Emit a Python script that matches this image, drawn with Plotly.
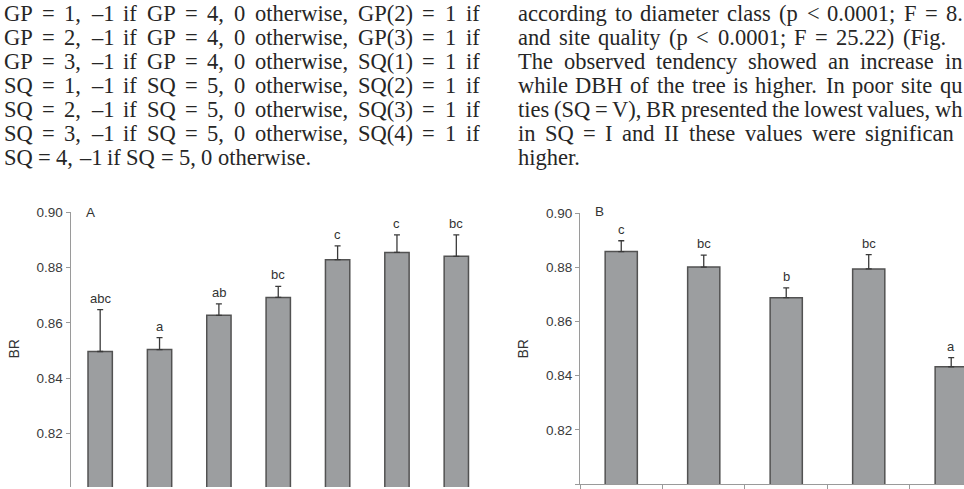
import plotly.graph_objects as go

W, H = 964, 489

# ---------------- data ----------------
classes_A = ["1", "2", "3", "4", "5", "6", "7"]
br_A = [0.8496, 0.8503, 0.8627, 0.8692, 0.8829, 0.8855, 0.8841]
err_A = [0.0152, 0.0043, 0.0042, 0.0040, 0.0050, 0.0064, 0.0078]
letters_A = ["abc", "a", "ab", "bc", "c", "c", "bc"]

classes_B = ["I", "II", "III", "IV", "V"]
br_B = [0.8858, 0.8801, 0.8688, 0.8794, 0.8433]
err_B = [0.0040, 0.0044, 0.0036, 0.0053, 0.0034]
letters_B = ["c", "bc", "b", "bc", "a"]

y_ticks = [0.80, 0.82, 0.84, 0.86, 0.88, 0.90]
y_title = "BR"

text_left = [
    "GP = 1, –1 if GP = 4, 0 otherwise, GP(2) = 1 if",
    "GP = 2, –1 if GP = 4, 0 otherwise, GP(3) = 1 if",
    "GP = 3, –1 if GP = 4, 0 otherwise, SQ(1) = 1 if",
    "SQ = 1, –1 if SQ = 5, 0 otherwise, SQ(2) = 1 if",
    "SQ = 2, –1 if SQ = 5, 0 otherwise, SQ(3) = 1 if",
    "SQ = 3, –1 if SQ = 5, 0 otherwise, SQ(4) = 1 if",
    "SQ = 4, –1 if SQ = 5, 0 otherwise.",
]
text_right = [
    "according to diameter class (p < 0.0001; F = 8.",
    "and site quality (p < 0.0001; F = 25.22) (Fig.",
    "The observed tendency showed an increase in",
    "while DBH of the tree is higher. In poor site qu",
    "ties (SQ = V), BR presented the lowest values, wh",
    "in SQ = I and II these values were significan",
    "higher.",
]

# ---------------- styling / layout constants ----------------
SANS = "Liberation Sans, Arial, sans-serif"
SERIF = "Liberation Serif, Times New Roman, serif"
TXT = "#262626"
BAR_FILL = "#9c9ea0"
BAR_LINE = "#525252"
AX = "#9a9a9a"
FS = 22.5
LINE_TOP, LINE_STEP = 6.5, 24.42
left_x0, left_x1 = 3.5, 479.5
right_x0 = 517.7
right_last_word_x = [948, 902.7, 946.7, 945, 949, 865, None]
RIGHT_LIMIT = 962.5

# Times / Liberation Serif advance widths (1/1000 em)
TW = {' ': 250, '(': 333, ')': 333, ',': 250, '-': 333, '.': 250, ';': 278,
      '<': 564, '=': 564, '–': 500}
for d in "0123456789":
    TW[d] = 500
TW.update(dict(A=722, B=667, C=667, D=722, E=611, F=556, G=722, H=722, I=333,
               J=389, K=722, L=611, M=889, N=722, O=722, P=556, Q=722, R=667,
               S=556, T=611, U=722, V=722, W=944, X=722, Y=722, Z=611,
               a=444, b=500, c=444, d=500, e=444, f=333, g=500, h=500, i=278,
               j=278, k=500, l=278, m=778, n=500, o=500, p=500, q=500, r=333,
               s=389, t=278, u=500, v=500, w=722, x=500, y=500, z=444))


def tw(s):
    return sum(TW.get(c, 500) for c in s) * FS / 1000.0


def word_positions(line, x0, x_end=None, last_start=None):
    words = line.split(" ")
    widths = [tw(w) for w in words]
    n = len(words)
    if last_start is not None:
        last_start = min(last_start, RIGHT_LIMIT - widths[-1])
    if x_end is not None and n > 1:
        gap = (x_end - x0 - sum(widths)) / (n - 1)
    elif last_start is not None and n > 1:
        gap = (last_start - x0 - sum(widths[:-1])) / (n - 1)
    else:
        gap = tw(" ")
    xs, x = [], x0
    for w in widths:
        xs.append(x)
        x += w + gap
    return list(zip(words, xs))


annotations = []


def add_text(word, px, py):
    annotations.append(dict(
        text=word, x=px / W, y=1 - py / H, xref="paper", yref="paper",
        xanchor="left", yanchor="middle", showarrow=False,
        borderpad=0, borderwidth=0,
        font=dict(family=SERIF, size=FS, color=TXT)))


for i, line in enumerate(text_left):
    last = i == len(text_left) - 1
    for w, px in word_positions(line, left_x0, None if last else left_x1):
        add_text(w, px, LINE_TOP + i * LINE_STEP)

for i, line in enumerate(text_right):
    for w, px in word_positions(line, right_x0, last_start=right_last_word_x[i]):
        add_text(w, px, LINE_TOP + i * LINE_STEP)

# ---------------- bars ----------------
fig = go.Figure()


def bar_trace(cats, vals, errs, xa, ya, width):
    return go.Bar(
        x=cats, y=vals, xaxis=xa, yaxis=ya, width=width,
        marker=dict(color=BAR_FILL, line=dict(color=BAR_LINE, width=1.5)),
        error_y=dict(type="data", symmetric=False, array=errs,
                     arrayminus=[0] * len(errs), color="#3a3a3a",
                     thickness=1.3, width=3),
        showlegend=False, hoverinfo="skip")


fig.add_trace(bar_trace(classes_A, br_A, err_A, "x", "y", 0.41))
fig.add_trace(bar_trace(classes_B, br_B, err_B, "x2", "y2", 0.39))

for cats, vals, errs, labs, xr, yr in [
        (classes_A, br_A, err_A, letters_A, "x", "y"),
        (classes_B, br_B, err_B, letters_B, "x2", "y2")]:
    for idx, (v, e, l) in enumerate(zip(vals, errs, labs)):
        annotations.append(dict(
            text=l, x=idx, y=v + e, xref=xr, yref=yr, xanchor="center",
            yanchor="bottom", yshift=2, showarrow=False,
            font=dict(family=SANS, size=13, color="#333333")))

# panel letters and axis titles
for t, px, py in [("A", 90, 209.5), ("B", 599, 208.7)]:
    annotations.append(dict(text=t, x=px / W, y=1 - py / H, xref="paper",
                            yref="paper", showarrow=False, xanchor="center",
                            yanchor="middle",
                            font=dict(family=SANS, size=13.5, color="#333333")))
for px in [14, 523]:
    annotations.append(dict(text=y_title, x=px / W, y=1 - 349 / H,
                            xref="paper", yref="paper", showarrow=False,
                            textangle=-90, xanchor="center", yanchor="middle",
                            font=dict(family=SANS, size=14, color="#333333")))

yax_common = dict(tickvals=y_ticks, tickformat=".2f", showgrid=False,
                  zeroline=False, showline=True, linecolor=AX, linewidth=1,
                  ticks="outside", ticklen=4, tickcolor=AX, tickwidth=1,
                  tickfont=dict(family=SANS, size=13.5, color="#3a3a3a"))

fig.update_layout(
    width=W, height=H, margin=dict(l=0, r=0, t=0, b=0),
    paper_bgcolor="white", plot_bgcolor="white",
    showlegend=False, annotations=annotations,
    xaxis=dict(domain=[70.5 / W, 486 / W], range=[-0.5, 6.5], type="category",
               showticklabels=False, showline=False, showgrid=False,
               zeroline=False, anchor="y"),
    yaxis=dict(domain=[0, 1 - 209.3 / H], range=[0.8005, 0.90], anchor="x",
               **yax_common),
    xaxis2=dict(domain=[580 / W, 1], range=[-0.5, 4.155], type="category",
                showticklabels=False, showline=True, linecolor=AX,
                linewidth=1, ticks="outside", tickson="boundaries",
                ticklen=5, tickcolor=AX, showgrid=False, zeroline=False,
                anchor="y2"),
    yaxis2=dict(domain=[3 / H, 1 - 210 / H], range=[0.80, 0.90], anchor="x2",
                **yax_common),
)

fig.write_html("out.html")
